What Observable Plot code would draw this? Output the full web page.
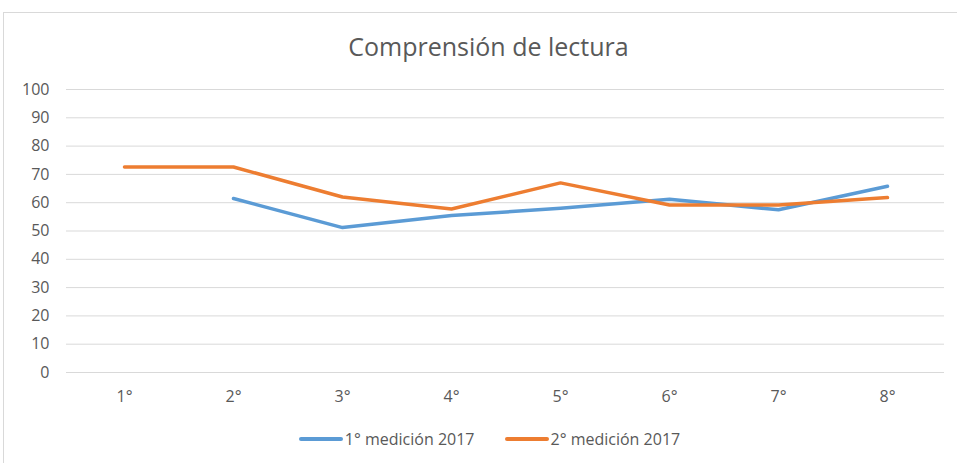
<!DOCTYPE html>
<html><head><meta charset="utf-8">
<script src="https://cdn.jsdelivr.net/npm/d3@7"></script>
<script src="https://cdn.jsdelivr.net/npm/@observablehq/plot@0.6"></script>
<style>
body{margin:0;background:#fff;width:957px;height:463px;overflow:hidden;position:relative;}
#frame{position:absolute;left:3px;top:12px;width:970px;height:470px;border:1px solid #d9d9d9;box-sizing:border-box;}
#title{position:absolute;left:0;top:31px;width:977px;text-align:center;font:25px "Open Sans",sans-serif;color:#595959;line-height:30px;}
#chart{position:absolute;left:0;top:75px;}
#legend{position:absolute;left:0;top:428px;width:979px;display:flex;justify-content:center;font:16px "Open Sans",sans-serif;color:#595959;line-height:22px;}
.item{display:flex;align-items:center;margin:0 15px;}
.sw{display:inline-block;width:44px;height:4px;margin-right:2px;border-radius:2px;}
</style></head>
<body>
<div id="frame"></div>
<div id="title">Comprensión de lectura</div>
<div id="chart"></div>
<div id="legend"></div>
<script>
const categories = ["1°","2°","3°","4°","5°","6°","7°","8°"];
const medicion1 = [null, 61.5, 51.2, 55.5, 58, 61.2, 57.5, 65.8];
const medicion2 = [72.6, 72.6, 62, 57.8, 67, 59.2, 59.2, 61.8];
const yTicks = [0,10,20,30,40,50,60,70,80,90,100];
const seriesNames = ["1° medición 2017","2° medición 2017"];
const seriesColors = ["#5B9BD5","#ED7D31"];

const data1 = categories.map((c,i)=>({cat:c, v:medicion1[i]}));
const data2 = categories.map((c,i)=>({cat:c, v:medicion2[i]}));

const plot = Plot.plot({
  width: 957, height: 340,
  marginLeft: 66, marginRight: 13, marginTop: 14, marginBottom: 43,
  style: {fontFamily: '"Open Sans",sans-serif', fontSize: "16px", color: "#595959", background: "transparent"},
  x: {type: "point", domain: categories, padding: 0.5, label: null, tickSize: 0, tickPadding: 18},
  y: {domain: [0,100], ticks: yTicks, label: null, tickSize: 0, tickPadding: 17},
  marks: [
    Plot.ruleY(yTicks, {stroke: "#d9d9d9", strokeWidth: 1}),
    Plot.line(data1, {x: "cat", y: "v", stroke: seriesColors[0], strokeWidth: 3.5, strokeLinecap: "round", strokeLinejoin: "round"}),
    Plot.line(data2, {x: "cat", y: "v", stroke: seriesColors[1], strokeWidth: 3.5, strokeLinecap: "round", strokeLinejoin: "round"})
  ]
});
document.getElementById("chart").appendChild(plot);

const leg = document.getElementById("legend");
seriesNames.forEach((n,i)=>{
  const it = document.createElement("div"); it.className="item";
  const sw = document.createElement("span"); sw.className="sw"; sw.style.background=seriesColors[i];
  const t = document.createElement("span"); t.textContent=n;
  it.appendChild(sw); it.appendChild(t); leg.appendChild(it);
});
</script>
</body></html>
